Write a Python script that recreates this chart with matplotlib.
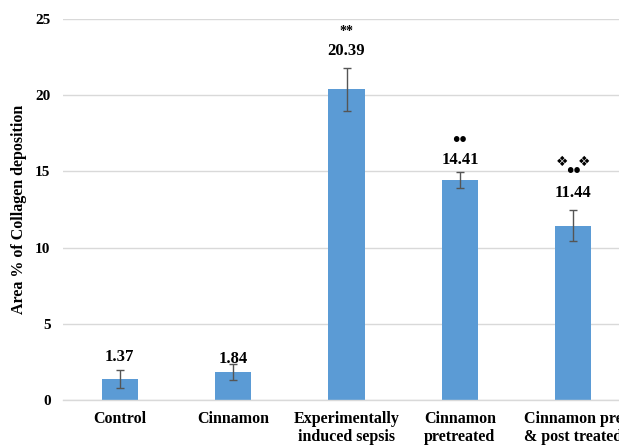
import matplotlib
matplotlib.use("Agg")
import matplotlib.pyplot as plt

# groups, means and error (SE) of collagen deposition area
groups = ["Control", "Cinnamon", "Experimentally\ninduced sepsis",
          "Cinnamon\npretreated", "Cinnamon pre\n& post treated"]
means = [1.37, 1.84, 20.39, 14.41, 11.44]
errors = [0.6, 0.5, 1.4, 0.53, 1.0]
yticks = [0, 5, 10, 15, 20, 25]

# label spacing above the error caps (pixels)
label_pad = [13, 5, 17, 12, 17]

plt.rcParams['font.family'] = ['Liberation Serif', 'DejaVu Sans']
plt.rcParams['font.weight'] = 'bold'

fig = plt.figure(figsize=(6.19, 4.47), dpi=100)
ax = fig.add_axes([63 / 619, 47 / 447, 567 / 619, 381 / 447])

x = list(range(len(groups)))
ax.bar(x, means, width=0.32, color='#5B9BD5', zorder=2)
ax.errorbar(x, means, yerr=errors, fmt='none', ecolor='#555555',
            elinewidth=1.0, capsize=3, capthick=1.0, zorder=3)

ax.set_xlim(-0.5, 4.5)
ax.set_ylim(0, 25)
ax.set_yticks(yticks)
ax.set_yticklabels([str(t) for t in yticks], fontsize=11, fontweight='bold')
ax.set_xticks(x)
ax.set_xticklabels(groups, fontsize=11.5, fontweight='bold', linespacing=1.15)
ax.tick_params(axis='y', length=0, pad=9)
ax.tick_params(axis='x', length=0, pad=8)
ax.yaxis.grid(True, color='#d9d9d9', linewidth=1.0, zorder=0)
ax.set_axisbelow(True)
for side in ['top', 'right', 'left']:
    ax.spines[side].set_visible(False)
ax.spines['bottom'].set_color('#d9d9d9')
ax.spines['bottom'].set_linewidth(1.0)

ax.set_ylabel("Area % of Collagen deposition", fontsize=11.5,
              fontweight='bold', labelpad=6)

# value labels above each error bar
for i, (m, e, p) in enumerate(zip(means, errors, label_pad)):
    ax.annotate(f"{m:.2f}", (i, m + e), xytext=(0, p * 0.72),
                textcoords='offset points', ha='center', va='center',
                fontsize=12, fontweight='bold')

# significance markers
px = 0.72
ax.annotate("**", (2, means[2] + errors[2]), xytext=(0, 36 * px),
            textcoords='offset points', ha='center', va='center',
            fontsize=10, fontweight='bold')
ax.annotate("••", (3, means[3] + errors[3]), xytext=(0, 31 * px),
            textcoords='offset points', ha='center', va='center',
            fontsize=15, fontweight='bold')
for dx in (-11, 11):
    ax.annotate("❖", (4, means[4] + errors[4]), xytext=(dx * px, 48 * px),
                textcoords='offset points', ha='center', va='center',
                fontsize=10, family=['DejaVu Sans'])
ax.annotate("••", (4, means[4] + errors[4]), xytext=(0, 38 * px),
            textcoords='offset points', ha='center', va='center',
            fontsize=15, fontweight='bold')

fig.savefig("out.png", dpi=100)
